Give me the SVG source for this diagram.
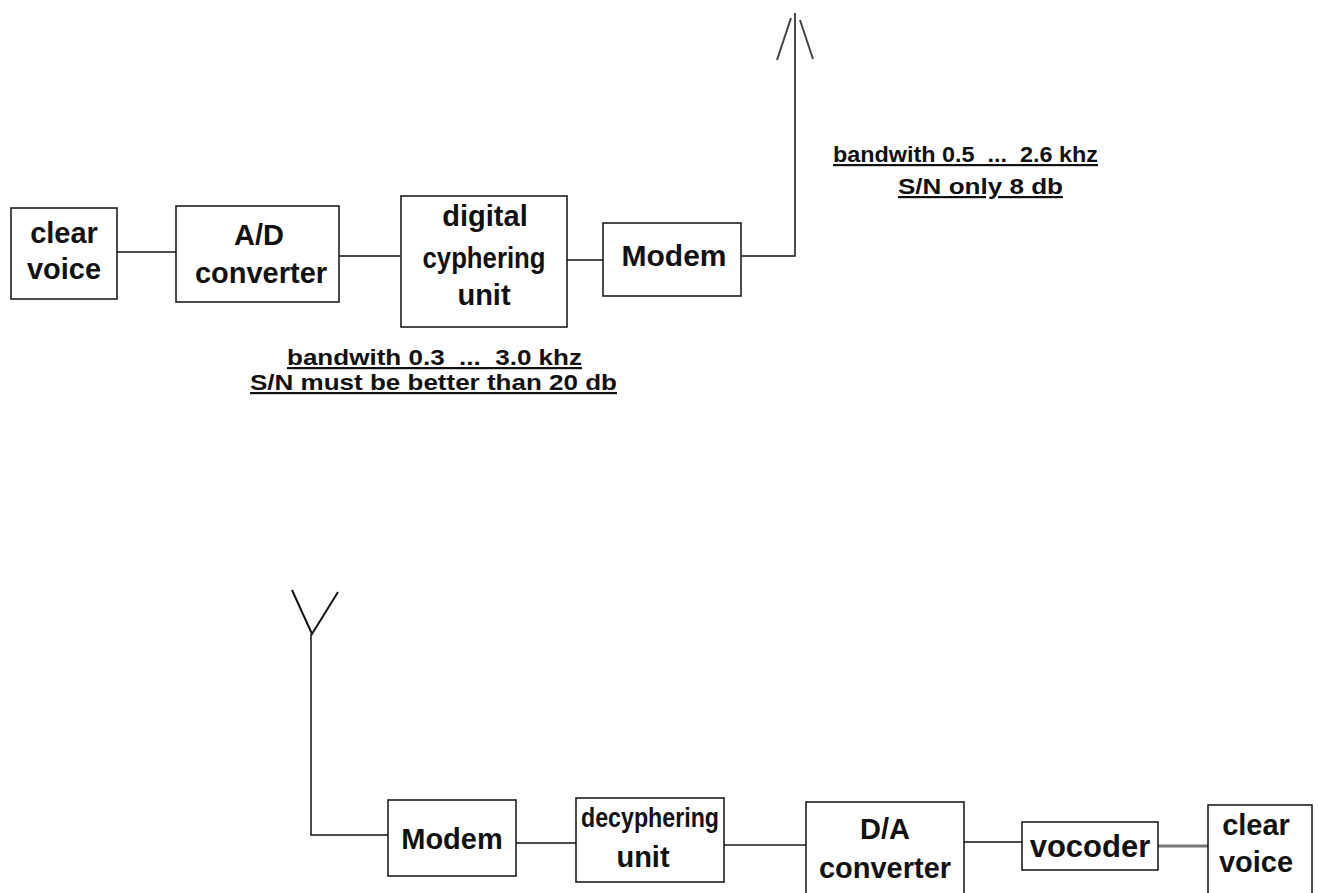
<svg xmlns="http://www.w3.org/2000/svg" width="1319" height="893" viewBox="0 0 1319 893">
<style>
.box{fill:#fff;stroke:#111;stroke-width:1.5}
.lbl{font-family:"Liberation Sans",Arial,sans-serif;font-weight:bold;font-size:29px;fill:#111;text-anchor:middle}
.note{font-family:"Liberation Sans",Arial,sans-serif;font-weight:bold;font-size:22px;fill:#111;white-space:pre;text-decoration:underline}
.wire{fill:none;stroke:#111;stroke-width:1.5}
.ant{fill:none;stroke:#444;stroke-width:2}
</style>
<defs>
<marker id="tip" markerWidth="6" markerHeight="6" refX="3" refY="1" orient="auto-start-reverse" markerUnits="userSpaceOnUse">
<path d="M1,4 L3,0 L5,4 Z" fill="#111"/>
</marker>
</defs>
<rect width="1319" height="893" fill="#fff"/>
<g id="connectors">
<line class="wire" x1="117" y1="252" x2="176" y2="252"/>
<line class="wire" x1="339" y1="256" x2="400" y2="256"/>
<line class="wire" x1="567" y1="260" x2="603" y2="260"/>
<polyline class="wire" points="741,256 795,256 795,13"/>
<polyline class="wire" points="311,634 311,835 388,835"/>
<line class="wire" x1="516" y1="843" x2="576" y2="843"/>
<line class="wire" x1="724" y1="845" x2="806" y2="845" style="stroke:#555;stroke-width:2"/>
<line class="wire" x1="964" y1="842" x2="1022" y2="842"/>
<line class="wire" x1="1158" y1="846" x2="1208" y2="846" style="stroke:#777;stroke-width:3"/>
</g>
<g id="antenna-tx">
<line class="ant" x1="777" y1="60" x2="791" y2="18"/>
<line class="ant" x1="800" y1="20" x2="813" y2="59"/>
</g>
<g id="antenna-rx">
<polyline class="ant" points="292,590 312,634 338,592" style="stroke:#111"/>
</g>
<g id="clear-voice-tx">
<rect class="box" x="11" y="208" width="106" height="91"/>
<text class="lbl" x="64" y="243">clear</text>
<text class="lbl" x="64" y="279">voice</text>
</g>
<g id="ad-converter">
<rect class="box" x="176" y="206" width="163" height="96"/>
<text class="lbl" x="259" y="245">A/D</text>
<text class="lbl" x="261" y="283">converter</text>
</g>
<g id="digital-cyphering">
<rect class="box" x="401" y="196" width="166" height="131"/>
<text class="lbl" x="485" y="226">digital</text>
<text class="lbl" x="484" y="268" textLength="123" lengthAdjust="spacingAndGlyphs">cyphering</text>
<text class="lbl" x="484" y="305">unit</text>
</g>
<g id="modem-tx">
<rect class="box" x="603" y="223" width="138" height="73"/>
<text class="lbl" x="674" y="266" style="font-size:30px">Modem</text>
</g>
<g id="note-tx">
<text class="note" x="833" y="162" textLength="265" lengthAdjust="spacingAndGlyphs">bandwith 0.5  ...  2.6 khz</text>
<text class="note" x="898" y="194" textLength="165" lengthAdjust="spacingAndGlyphs">S/N only 8 db</text>
</g>
<g id="note-rx">
<text class="note" x="287" y="365" textLength="295" lengthAdjust="spacingAndGlyphs">bandwith 0.3  ...  3.0 khz</text>
<text class="note" x="250" y="390" textLength="367" lengthAdjust="spacingAndGlyphs">S/N must be better than 20 db</text>
</g>
<g id="modem-rx">
<rect class="box" x="388" y="800" width="128" height="76"/>
<text class="lbl" x="452" y="849">Modem</text>
</g>
<g id="deciphering">
<rect class="box" x="576" y="798" width="148" height="84"/>
<text class="lbl" x="650" y="827" style="font-size:27px" textLength="138" lengthAdjust="spacingAndGlyphs">decyphering</text>
<text class="lbl" x="643" y="867">unit</text>
</g>
<g id="da-converter">
<rect class="box" x="806" y="802" width="158" height="100"/>
<text class="lbl" x="885" y="839">D/A</text>
<text class="lbl" x="885" y="878">converter</text>
</g>
<g id="vocoder">
<rect class="box" x="1022" y="822" width="136" height="48"/>
<text class="lbl" x="1090" y="857" style="font-size:31px">vocoder</text>
</g>
<g id="clear-voice-rx">
<rect class="box" x="1208" y="805" width="104" height="100"/>
<text class="lbl" x="1256" y="835">clear</text>
<text class="lbl" x="1256" y="872">voice</text>
</g>
</svg>
